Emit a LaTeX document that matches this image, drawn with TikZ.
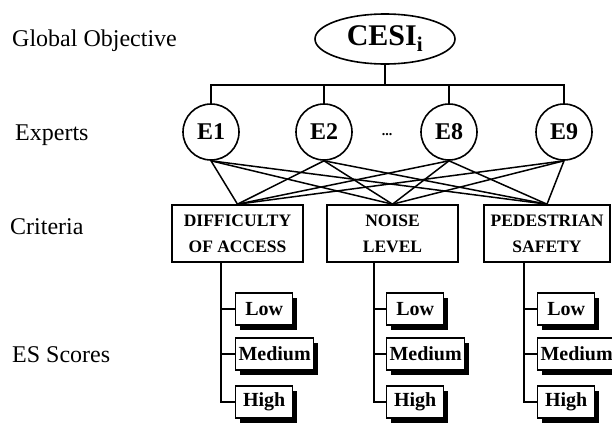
\documentclass[tikz,border=0pt]{standalone}
\usepackage{fontspec}
\setmainfont{Liberation Serif}
\usetikzlibrary{shapes.geometric}
\begin{document}
\begin{tikzpicture}[x=1pt,y=-1pt,
  lbl/.style={anchor=west,inner sep=0pt,font=\fontsize{24}{28}\selectfont},
  expert/.style={circle,draw,line width=1.6pt,minimum size=56pt,inner sep=0pt,font=\bfseries\fontsize{24}{28}\selectfont},
  crit/.style={draw,line width=1.6pt,minimum height=57pt,align=center,inner sep=0pt,font=\bfseries\fontsize{17.5}{26}\selectfont},
  score/.style={draw,fill=white,line width=1.3pt,anchor=west,minimum width=57pt,minimum height=32pt,inner sep=0pt,
    font=\bfseries\fontsize{20}{22}\selectfont},
  wide/.style={minimum width=78pt},
  shadowbox/.style={fill=black,draw=none},
  conn/.style={line width=1.8pt},
  elink/.style={line width=1.5pt}]
\useasboundingbox (0,0) rectangle (612,426);

% left labels
\node[lbl] (lg) at (12,41) {Global Objective};
\node[lbl] (le) at (15,135) {Experts};
\node[lbl] (lc) at (10,227) {Criteria};
\node[lbl] (ls) at (12,355) {ES Scores};

% goal
\node[ellipse,draw,line width=1.6pt,minimum width=140pt,minimum height=50pt,inner sep=0pt,
  font=\bfseries\fontsize{30}{32}\selectfont] (cesi) at (385,39) {CESI$_{\mathbf{i}}$};

% experts
\node[expert] (e1) at (211,132) {E1};
\node[expert] (e2) at (324,132) {E2};
\node[expert] (e8) at (449,132) {E8};
\node[expert] (e9) at (564,132) {E9};
\node[font=\bfseries\fontsize{14}{16}\selectfont,inner sep=0pt,anchor=base] (dots) at (387,135) {...};

% bar
\coordinate (bar) at (385,85);
\draw[conn] (cesi.south) -- (bar);
\draw[conn] (e1.north) |- (bar) -| (e9.north);
\draw[conn] (e2.north) -- (e2.north |- bar);
\draw[conn] (e8.north) -- (e8.north |- bar);

% criteria
\node[crit,minimum width=131pt] (c1) at (237.5,233.5) {DIFFICULTY\\OF ACCESS};
\node[crit,minimum width=131pt] (c2) at (392.5,233.5) {NOISE\\LEVEL};
\node[crit,minimum width=126pt] (c3) at (547,233.5) {PEDESTRIAN\\SAFETY};

\foreach \e in {e1,e2,e8,e9}{
  \foreach \c in {c1,c2,c3}{
    \draw[elink] (\e.south) -- (\c.north);
  }
}

% score shadows
\fill[shadowbox] (240,298) rectangle (297,330);
\fill[shadowbox] (240,343) rectangle (318,375);
\fill[shadowbox] (240,391) rectangle (297,423);
\fill[shadowbox] (391,298) rectangle (448,330);
\fill[shadowbox] (391,343) rectangle (469,375);
\fill[shadowbox] (391,391) rectangle (448,423);
\fill[shadowbox] (542,298) rectangle (599,330);
\fill[shadowbox] (542,343) rectangle (620,375);
\fill[shadowbox] (542,391) rectangle (599,423);

% scores
\node[score] (l1) at (235,309) {Low};
\node[score,wide] (m1) at (235,354) {Medium};
\node[score] (h1) at (235,402) {High};
\node[score] (l2) at (386,309) {Low};
\node[score,wide] (m2) at (386,354) {Medium};
\node[score] (h2) at (386,402) {High};
\node[score] (l3) at (537,309) {Low};
\node[score,wide] (m3) at (537,354) {Medium};
\node[score] (h3) at (537,402) {High};

% trunks
\coordinate (t1) at (221,309);
\coordinate (t2) at (374,309);
\coordinate (t3) at (524,309);
\draw[conn] (t1 |- c1.south) |- (h1.west);
\draw[conn] (t1) -- (l1.west);
\draw[conn] (t1 |- m1.west) -- (m1.west);
\draw[conn] (t2 |- c2.south) |- (h2.west);
\draw[conn] (t2) -- (l2.west);
\draw[conn] (t2 |- m2.west) -- (m2.west);
\draw[conn] (t3 |- c3.south) |- (h3.west);
\draw[conn] (t3) -- (l3.west);
\draw[conn] (t3 |- m3.west) -- (m3.west);
\end{tikzpicture}
\end{document}
